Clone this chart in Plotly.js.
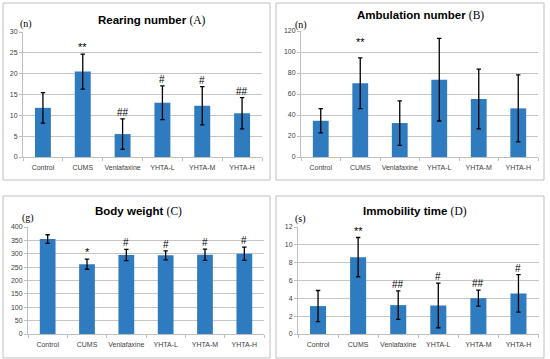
<!DOCTYPE html>
<html>
<head>
<meta charset="utf-8">
<script src="https://cdn.plot.ly/plotly-3.0.1.min.js"></script>
<style>html,body{margin:0;padding:0;background:#fff;}#chart{width:550px;height:359px;}</style>
</head>
<body>
<div id="chart"></div>
<script>
const categories = ['Control', 'CUMS', 'Venlafaxine', 'YHTA-L', 'YHTA-M', 'YHTA-H'];

const rearing = [11.8, 20.5, 5.5, 13.0, 12.3, 10.5];
const rearingErr = [3.65, 4.2, 3.65, 4.05, 4.6, 3.75];
const rearingSig = ['', '**', '##', '#', '#', '##'];

const ambulation = [34.5, 70.2, 32.3, 73.6, 55.2, 46.3];
const ambulationErr = [11.5, 24.2, 21.2, 39.3, 28.5, 31.9];
const ambulationSig = ['', '**', '', '', '', ''];

const bodyWeight = [355, 261, 295, 294, 296, 300];
const bodyWeightErr = [16, 19, 21, 17, 21, 25];
const bodyWeightSig = ['', '*', '#', '#', '#', '#'];

const immobility = [3.13, 8.62, 3.24, 3.2, 4.02, 4.55];
const immobilityErr = [1.75, 2.2, 1.6, 2.5, 0.9, 2.1];
const immobilitySig = ['', '**', '##', '#', '##', '#'];

const W = 550, H = 359;
const px = x => x / W;
const py = y => 1 - y / H;

const panels = [
  {vals: rearing, err: rearingErr, sig: rearingSig, title: 'Rearing number', letter: '(A)', unit: '(n)',
   x0: 23, x1: 262, yTop: 32, yBot: 157, range: [0, 30], dtick: 5, box: [3, 3, 270, 180], titleX: 152, titleY: 20, unitX: 26, unitY: 24, sigShift: 0},
  {vals: ambulation, err: ambulationErr, sig: ambulationSig, title: 'Ambulation number', letter: '(B)', unit: '(n)',
   x0: 301, x1: 538, yTop: 31, yBot: 157, range: [0, 120], dtick: 20, box: [276, 3, 544, 180], titleX: 420, titleY: 16, unitX: 301, unitY: 25, sigShift: 9},
  {vals: bodyWeight, err: bodyWeightErr, sig: bodyWeightSig, title: 'Body weight', letter: '(C)', unit: '(g)',
   x0: 28, x1: 264, yTop: 227, yBot: 334, range: [0, 400], dtick: 50, box: [3, 196, 270, 358], titleX: 138, titleY: 211, unitX: 28, unitY: 218, sigShift: 0},
  {vals: immobility, err: immobilityErr, sig: immobilitySig, title: 'Immobility time', letter: '(D)', unit: '(s)',
   x0: 298, x1: 538.5, yTop: 227, yBot: 334, range: [0, 12], dtick: 2, box: [276, 196, 544, 358], titleX: 415, titleY: 211, unitX: 300, unitY: 219, sigShift: 0}
];

const data = [];
const layout = {
  width: W, height: H,
  margin: {l: 0, r: 0, t: 0, b: 0},
  paper_bgcolor: '#ffffff', plot_bgcolor: '#ffffff',
  showlegend: false,
  bargap: 0.6,
  font: {family: 'Liberation Sans, Arial, sans-serif', color: '#404040'},
  shapes: [], annotations: []
};

panels.forEach((p, i) => {
  const n = i + 1;
  const xa = 'x' + (n === 1 ? '' : n), ya = 'y' + (n === 1 ? '' : n);
  data.push({
    type: 'bar', x: categories, y: p.vals, xaxis: xa, yaxis: ya,
    marker: {color: '#2f7bc0', line: {width: 0}},
    error_y: {type: 'data', array: p.err, visible: true, color: '#000000', thickness: 1.3, width: 2.2},
    hoverinfo: 'skip'
  });
  layout['xaxis' + (n === 1 ? '' : n)] = {
    domain: [px(p.x0), px(p.x1)], anchor: ya, type: 'category',
    showline: true, linecolor: '#bfbfbf', linewidth: 1,
    ticks: 'outside', tickson: 'boundaries', ticklen: 3, tickcolor: '#bfbfbf',
    tickangle: 0, automargin: false, ticklabelstandoff: 4,
    tickfont: {size: 7, color: '#404040', family: 'Liberation Sans, Arial, sans-serif'},
    showgrid: false, zeroline: false, fixedrange: true
  };
  layout['yaxis' + (n === 1 ? '' : n)] = {
    domain: [py(p.yBot), py(p.yTop)], anchor: xa, range: p.range, dtick: p.dtick,
    showline: true, linecolor: '#bfbfbf', linewidth: 1,
    ticks: 'outside', ticklen: 3, tickcolor: '#bfbfbf', automargin: false,
    showgrid: true, gridcolor: '#c6c6c6', gridwidth: 1, zeroline: false,
    tickfont: {size: 7, color: '#404040', family: 'Liberation Sans, Arial, sans-serif'},
    fixedrange: true
  };
  layout.shapes.push({type: 'rect', xref: 'paper', yref: 'paper',
    x0: px(p.box[0]), x1: px(p.box[2]), y0: py(p.box[3]), y1: py(p.box[1]),
    line: {color: '#c0c0c0', width: 1}, fillcolor: 'rgba(0,0,0,0)', layer: 'below'});
  layout.annotations.push({xref: 'paper', yref: 'paper', x: px(p.titleX), y: py(p.titleY),
    xanchor: 'center', yanchor: 'middle', showarrow: false,
    text: '<b>' + p.title + '</b> <span style="font-family:Liberation Serif, Times New Roman, serif;font-weight:normal">' + p.letter + '</span>',
    font: {size: 11.5, color: '#000000', family: 'Liberation Sans, Arial, sans-serif'}});
  layout.annotations.push({xref: 'paper', yref: 'paper', x: px(p.unitX), y: py(p.unitY),
    xanchor: 'center', yanchor: 'middle', showarrow: false, text: p.unit,
    font: {size: 10, color: '#000000', family: 'Liberation Serif, Times New Roman, serif'}});
  p.sig.forEach((s, k) => {
    if (!s) return;
    layout.annotations.push({xref: xa, yref: ya, x: categories[k], y: p.vals[k] + p.err[k],
      xanchor: 'center', yanchor: 'bottom', yshift: p.sigShift - 1, showarrow: false, text: s,
      font: {size: s.indexOf('#') >= 0 ? 10 : 11, color: '#000000', family: 'Liberation Sans, Arial, sans-serif'}});
  });
});

Plotly.newPlot('chart', data, layout, {displayModeBar: false, staticPlot: true});
</script>
</body>
</html>
